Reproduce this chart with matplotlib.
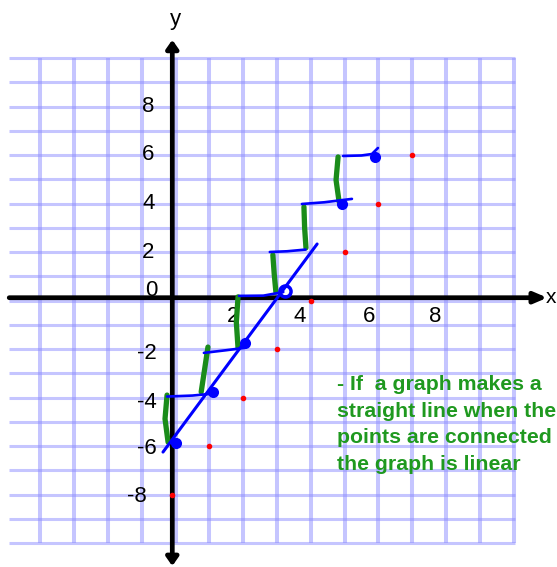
import matplotlib.pyplot as plt

plt.rcParams['font.family'] = ['Liberation Sans', 'DejaVu Sans']

# grid extent (in grid units)
grid_cols = list(range(-4, 11))
grid_rows = list(range(-10, 11))

# axis labels
x_labels = ['2', '4', '6', '8']
x_label_pos = [1.70, 3.68, 5.72, 7.68]
y_labels = ['8', '6', '4', '2', '0', '-2', '-4', '-6', '-8']
y_label_pos = [8, 6, 4, 2, 0.43, -2.2, -4.19, -6.12, -8.1]

# plotted points
red_x = [-0.1, 1, 2, 3, 4, 5, 6, 7]
red_y = [-8, -6, -4, -2, 0, 2, 4, 6]
dot_x = [0, 1.11, 2.06, 4.93, 5.9]
dot_y = [-5.88, -3.77, -1.75, 3.98, 5.92]
open_dot = (3.24, 0.39)

# line through the points
line_x = [-0.37, 4.19]
line_y = [-6.25, 2.33]

# run (blue) and rise (green) strokes of the staircase
runs = [
    [(-0.25, -3.96), (0.5, -3.92), (1.11, -3.84)],
    [(0.84, -2.16), (1.5, -2.05), (2.06, -1.95)],
    [(1.88, 0.19), (2.6, 0.2), (3.19, 0.35)],
    [(2.79, 2.0), (3.3, 2.03), (3.85, 2.1)],
    [(3.74, 3.98), (4.4, 4.05), (5.22, 4.19)],
    [(4.96, 5.96), (5.5, 5.98), (5.81, 6.04), (5.99, 6.29)],
]
rises = [
    [(-0.25, -3.9), (-0.31, -4.88), (-0.22, -5.84)],
    [(0.96, -1.92), (0.86, -2.85), (0.76, -3.77)],
    [(1.85, 0.15), (1.80, -0.9), (1.85, -1.96)],
    [(2.88, 1.88), (2.92, 1.1), (2.97, 0.35)],
    [(3.8, 3.86), (3.82, 3.0), (3.86, 2.17)],
    [(4.81, 5.92), (4.75, 4.97), (4.84, 4.07)],
]

note = ['- If  a graph makes a',
        'straight line when the',
        'points are connected',
        'the graph is linear']

fig = plt.figure(figsize=(5.57, 5.67), dpi=100)
ax = fig.add_axes([0, 0, 1, 1])
ax.set_xlim(-175.5 / 33.8, (557 - 175.5) / 33.8)
ax.set_ylim((300.5 - 567) / 24.25, 300.5 / 24.25)
ax.axis('off')

grid_c = (0.55, 0.55, 1.0)
for c in grid_cols:
    ax.plot([c, c], [-10, 10], color=grid_c, alpha=0.5, lw=2.9, solid_capstyle='butt')
for r in grid_rows:
    ax.plot([-4.92, 10.05], [r, r], color=grid_c, alpha=0.5, lw=2.2, solid_capstyle='butt')

# axes with arrows
ax.annotate('', xy=(11.0, 0.115), xytext=(-4.92, 0.115),
            arrowprops=dict(arrowstyle='-|>,head_length=0.75,head_width=0.32',
                            lw=3.4, color='black', shrinkA=0, shrinkB=0))
ax.annotate('', xy=(-0.095, 10.75), xytext=(-0.095, -10.95),
            arrowprops=dict(arrowstyle='<|-|>,head_length=0.5,head_width=0.35',
                            lw=3.4, color='black', shrinkA=0, shrinkB=0))
ax.text(11.12, 0.14, 'x', fontsize=15, ha='center', va='center')
ax.text(0.01, 11.6, 'y', fontsize=16, ha='center', va='center')

for lab, p in zip(x_labels, x_label_pos):
    ax.text(p, -0.68, lab, fontsize=16, ha='center', va='center')
for lab, p in zip(y_labels, y_label_pos):
    if lab == '-8':
        ax.text(-0.85, p, lab, fontsize=16, ha='right', va='center')
    elif lab == '0':
        ax.text(-0.52, p, lab, fontsize=16, ha='right', va='center')
    elif lab.startswith('-'):
        ax.text(-0.55, p, lab, fontsize=16, ha='right', va='center')
    else:
        ax.text(-0.62, p, lab, fontsize=16, ha='right', va='center')

ax.plot(red_x, red_y, 'o', color='red', ms=4, mew=0, zorder=5)

for s in rises:
    ax.plot([p[0] for p in s], [p[1] for p in s], color=(0.1, 0.55, 0.1), lw=3.8,
            solid_capstyle='round', solid_joinstyle='round', zorder=4)
for s in runs:
    ax.plot([p[0] for p in s], [p[1] for p in s], color='blue', lw=1.9,
            solid_capstyle='round', solid_joinstyle='round', zorder=4)

ax.plot(line_x, line_y, color='blue', lw=2.2, solid_capstyle='round', zorder=4)
ax.plot(dot_x, dot_y, 'o', color='blue', ms=8, mew=0, zorder=5)
ax.plot([open_dot[0]], [open_dot[1]], 'o', mfc='none', mec='blue', ms=8, mew=2.5, zorder=5)

for i, ln in enumerate(note):
    ax.text(4.78, -3.69 - 1.1 * i, ln, fontsize=15.3, fontweight='bold',
            color=(0.12, 0.6, 0.12), ha='left', va='baseline')

fig.savefig('out.png', dpi=100)
